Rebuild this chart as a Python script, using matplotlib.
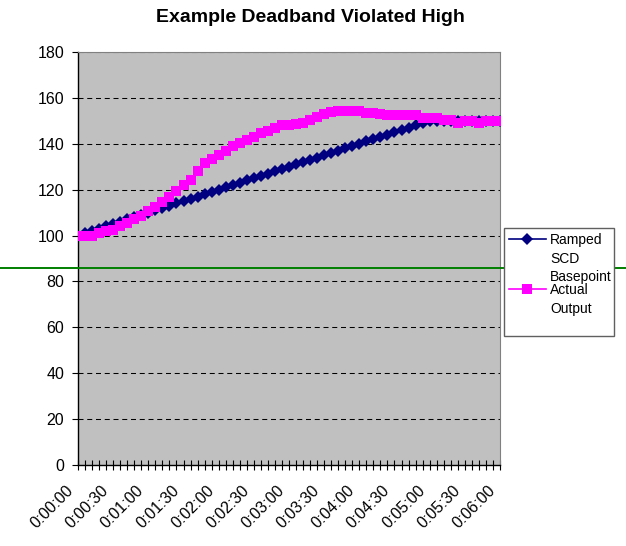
import matplotlib
matplotlib.use("Agg")
import matplotlib.pyplot as plt
from matplotlib.lines import Line2D
from matplotlib.patches import Rectangle
from matplotlib.transforms import ScaledTranslation

plt.rcParams["font.family"] = ["Liberation Sans", "DejaVu Sans"]

# samples every 6 seconds from 0:00:00 to 0:06:00
ramped_scd_basepoint = [
    100, 101, 102, 103, 104, 105, 106, 107, 108, 109,
    110, 111, 112, 113, 114, 115, 116, 117, 118, 119,
    120, 121, 122, 123, 124, 125, 126, 127, 128, 129,
    130, 131, 132, 133, 134, 135, 136, 137, 138, 139,
    140, 141, 142, 143, 144, 145, 146, 147, 148, 149,
    150, 150, 150, 150, 150, 150, 150, 150, 150, 150,
    150,
]
actual_output = [
    100, 100, 100, 101, 102, 102.5, 104, 105.5, 107, 108.5,
    110.5, 112.5, 114.5, 117, 119.5, 122, 124, 128, 131.5, 133.5,
    135, 137, 139, 140.5, 141.7, 143, 144.5, 145.7, 146.8, 148,
    148.2, 148.5, 149, 150.4, 151.8, 153, 153.7, 154.5, 154.5, 154.5,
    154.5, 153.3, 153.3, 153, 152.6, 152.6, 152.6, 152.6, 152.6, 151.4,
    151.4, 151.4, 150.2, 150.2, 149, 150, 150, 149, 150, 150,
    150,
]
time_labels = [
    "0:00:00", "0:00:30", "0:01:00", "0:01:30", "0:02:00", "0:02:30", "0:03:00",
    "0:03:30", "0:04:00", "0:04:30", "0:05:00", "0:05:30", "0:06:00",
]
deadband_high = 86

W, H = 626, 546
fig = plt.figure(figsize=(W / 100, H / 100), dpi=100)
ax = fig.add_axes([78 / W, 1 - 465 / H, 422 / W, 413 / H])
ax.set_facecolor("#c0c0c0")

x = list(range(len(actual_output)))
ax.plot(x, ramped_scd_basepoint, color="#000080", lw=1.2, marker="D",
        markersize=6, markeredgewidth=0, zorder=3)
ax.plot(x, actual_output, color="#ff00ff", lw=1.2, marker="s",
        markersize=7, markeredgewidth=0, zorder=4)

ax.set_xlim(0, len(x) - 1)
ax.set_ylim(0, 180)
ax.set_yticks(range(0, 181, 20))
ax.grid(axis="y", color="black", lw=0.75, linestyle=(0, (4.8, 3.6)))
ax.set_axisbelow(True)

ax.set_xticks(x, minor=True)
ax.set_xticks(x[::5])
ax.set_xticklabels(time_labels, rotation=45, ha="right", va="center",
                   rotation_mode="anchor")
ax.tick_params(axis="x", which="both", direction="inout", length=7,
               width=0.8, color="black")
ax.tick_params(axis="x", which="major", pad=13, labelsize=11.5)
ax.tick_params(axis="y", direction="out", length=4, width=0.8, pad=6,
               labelsize=11.5)
shift = ScaledTranslation(-7 / 100, 0, fig.dpi_scale_trans)
for lab in ax.get_xticklabels():
    lab.set_transform(lab.get_transform() + shift)

for side in ("top", "right"):
    ax.spines[side].set_color("#808080")
for side in ("left", "bottom"):
    ax.spines[side].set_color("black")
    ax.spines[side].set_linewidth(1.0)

fig.text(310 / W, 1 - 17 / H, "Example Deadband Violated High",
         ha="center", va="center", fontsize=14, fontweight="bold")

# legend box on the right
fig.patches.append(Rectangle((504 / W, 1 - 336 / H), 110 / W, 108 / H,
                             transform=fig.transFigure, facecolor="white",
                             edgecolor="#606060", lw=1.0, zorder=1))
entries = [
    ("#000080", "D", 6, 239, ["Ramped", "SCD", "Basepoint"]),
    ("#ff00ff", "s", 7, 289, ["Actual", "Output"]),
]
for color, mk, ms, y0, lines in entries:
    fig.add_artist(Line2D([509 / W, 546 / W], [1 - y0 / H] * 2, color=color,
                          lw=1.2, transform=fig.transFigure, zorder=2))
    fig.add_artist(Line2D([527 / W], [1 - y0 / H], color=color, marker=mk,
                          markersize=ms, markeredgewidth=0,
                          transform=fig.transFigure, zorder=2))
    for k, line in enumerate(lines):
        fig.text(550 / W, 1 - (y0 + 5 + 18.5 * k) / H, line, ha="left",
                 va="baseline", fontsize=10, zorder=3)

# deadband limit across the whole chart
ax.axhline(deadband_high, xmin=-78 / 422, xmax=548 / 422, color="#008000",
           lw=1.4, clip_on=False, zorder=10)

fig.savefig("out.png", dpi=100)
